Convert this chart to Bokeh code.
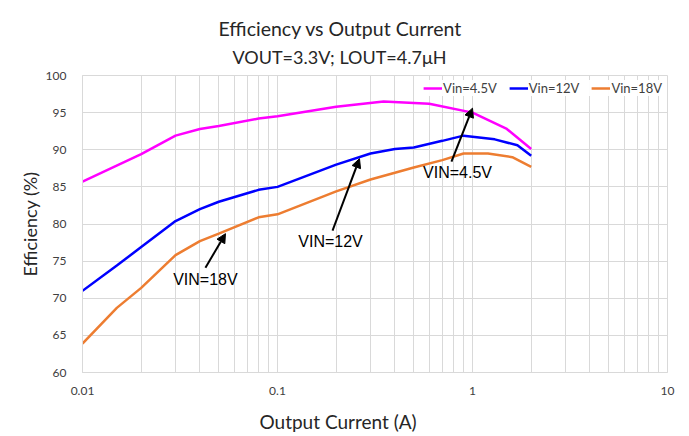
from bokeh.plotting import figure
from bokeh.models import (FixedTicker, Title, Legend, LegendItem, Arrow, NormalHead,
                          ColumnDataSource, Range1d)
from bokeh.core.properties import value
from bokeh.embed import file_html
from bokeh.resources import INLINE

# ---- data ----
x_45 = [0.01, 0.02, 0.03, 0.04, 0.05, 0.08, 0.1, 0.2, 0.35, 0.6, 1.0, 1.5, 2.0]
eff_45 = [85.7, 89.4, 91.9, 92.8, 93.2, 94.2, 94.5, 95.8, 96.5, 96.2, 95.0, 92.8, 90.1]

x_12 = [0.01, 0.015, 0.02, 0.03, 0.04, 0.05, 0.08, 0.1, 0.2, 0.3, 0.4, 0.5, 0.7, 0.9, 1.3, 1.7, 2.0]
eff_12 = [71.0, 74.4, 76.9, 80.4, 82.0, 83.0, 84.6, 85.0, 88.0, 89.5, 90.1, 90.3, 91.2, 91.9, 91.4, 90.6, 89.2]

x_18 = [0.01, 0.015, 0.02, 0.03, 0.04, 0.05, 0.08, 0.1, 0.2, 0.3, 0.4, 0.5, 0.7, 0.9, 1.2, 1.6, 2.0]
eff_18 = [63.9, 68.7, 71.4, 75.8, 77.7, 78.7, 80.9, 81.3, 84.4, 86.0, 86.9, 87.6, 88.6, 89.5, 89.5, 89.0, 87.7]

series_names = ["Vin=4.5V", "Vin=12V", "Vin=18V"]
series_colors = ["#FF00FF", "#0000FF", "#ED7D31"]

x_ticks = [0.01, 0.1, 1, 10]
x_tick_labels = ["0.01", "0.1", "1", "10"]
y_ticks = [60, 65, 70, 75, 80, 85, 90, 95, 100]

# annotation texts and arrow tails/heads (data coords)
ann_text = ["VIN=18V", "VIN=12V", "VIN=4.5V"]
ann_tx = [0.0427, 0.187, 0.838]
ann_ty = [72.5, 77.6, 87.0]
arr_x0 = [0.0427, 0.1915, 0.78]
arr_y0 = [74.1, 79.1, 88.4]
arr_x1 = [0.0541, 0.2633, 1.0]
arr_y1 = [78.7, 88.8, 95.6]

FONT = "Lato"

p = figure(width=680, height=436, x_axis_type="log",
           x_range=Range1d(0.01, 10), y_range=Range1d(60, 100),
           output_backend="svg", toolbar_location=None,
           min_border_left=82, min_border_right=13, min_border_top=75, min_border_bottom=64)

# small spacer between the frame and the subtitle
p.add_layout(Title(text=" ", text_font_size="3px", standoff=0), "above")
p.add_layout(Title(text="VOUT=3.3V; LOUT=4.7\u03bcH", align="left", text_font=FONT,
                   text_font_size="18px", text_font_style="normal", text_color="#262626",
                   standoff=5, offset=150), "above")
p.add_layout(Title(text="Efficiency vs Output Current", align="left", text_font=FONT,
                   text_font_size="19.5px", text_font_style="normal", text_color="#262626",
                   standoff=4, offset=136), "above")

minor = [m * 10 ** e for e in range(-2, 1) for m in range(2, 10)]
p.xaxis.ticker = FixedTicker(ticks=x_ticks, minor_ticks=minor)
p.xaxis.major_label_overrides = {t: l for t, l in zip(x_ticks, x_tick_labels)}
p.yaxis.ticker = FixedTicker(ticks=y_ticks)

for ax in (p.xaxis[0], p.yaxis[0]):
    ax.major_tick_line_color = None
    ax.minor_tick_line_color = None
    ax.axis_line_color = "#d9d9d9"
    ax.major_label_text_font = FONT
    ax.major_label_text_font_size = "12px"
    ax.major_label_text_color = "#404040"

p.xaxis.major_label_standoff = 8
p.yaxis.major_label_standoff = 10

p.add_layout(Title(text=" ", text_font_size="5px", standoff=0), "below")
p.add_layout(Title(text="Output Current (A)", align="left", text_font=FONT,
                   text_font_size="19px", text_font_style="normal", text_color="#262626",
                   standoff=4, offset=177), "below")
p.add_layout(Title(text="Efficiency (%)", align="center", text_font=FONT,
                   text_font_size="18px", text_font_style="normal", text_color="#262626",
                   standoff=3), "left")

p.xgrid.grid_line_color = "#d9d9d9"
p.xgrid.minor_grid_line_color = "#d9d9d9"
p.ygrid.grid_line_color = "#d9d9d9"
p.outline_line_color = "#d9d9d9"

items = []
for xs, ys, name, col in zip([x_45, x_12, x_18], [eff_45, eff_12, eff_18], series_names, series_colors):
    r = p.line(xs, ys, line_color=col, line_width=2.5)
    items.append(LegendItem(label=name, renderers=[r]))

leg = Legend(items=items, location="top_right", orientation="horizontal",
             glyph_width=19, glyph_height=14, label_standoff=1, spacing=12,
             padding=2, margin=5, border_line_color=None,
             label_text_font=FONT, label_text_font_size="13px", label_text_color="#404040")
p.add_layout(leg, "center")

for x0, y0, x1, y1 in zip(arr_x0, arr_y0, arr_x1, arr_y1):
    p.add_layout(Arrow(x_start=x0, y_start=y0, x_end=x1, y_end=y1, line_width=2,
                       line_color="black",
                       end=NormalHead(size=9, fill_color="black", line_color="black")))

src = ColumnDataSource(dict(x=ann_tx, y=ann_ty, t=ann_text))
p.text(x="x", y="y", text="t", source=src, text_font=value("Liberation Sans"),
       text_font_size="16px", text_align="center", text_baseline="middle", text_color="black")

open("out.html", "w").write(file_html(p, INLINE))
